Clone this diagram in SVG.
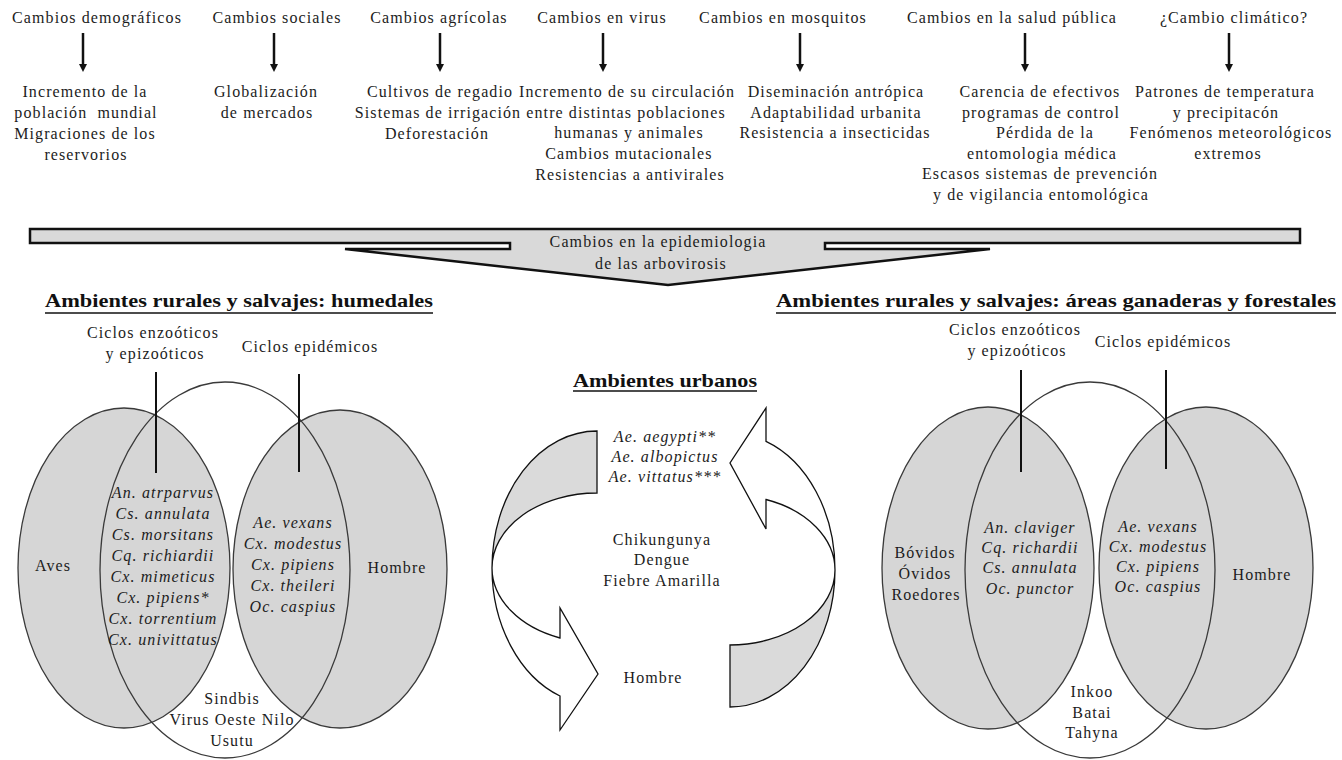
<svg xmlns="http://www.w3.org/2000/svg" width="1342" height="760" viewBox="0 0 1342 760">
<defs>
<style>
.t{font-family:"Liberation Serif","Times New Roman",serif;font-size:16px;letter-spacing:1.1px;fill:#1c1c1c;text-anchor:middle}
.i{font-style:italic}
.h{font-weight:bold;font-size:19px;letter-spacing:0;fill:#111}
.ul{stroke:#111;stroke-width:1.3}
.venn{fill:#d6d6d6;stroke:#3a3a3a;stroke-width:1.3}
.mid{fill:none;stroke:#3a3a3a;stroke-width:1.3}
.ptr{stroke:#111;stroke-width:2}
.arr{stroke:#111;stroke-width:2.5;marker-end:url(#ah)}
.ugray{fill:#dadada;stroke:#111;stroke-width:1.3;stroke-linejoin:miter}
.uwhite{fill:#fff;stroke:#111;stroke-width:1.3;stroke-linejoin:miter}
.banner{fill:#d9d9d9;stroke:#111;stroke-width:2.5;stroke-linejoin:miter}
</style>
<marker id="ah" viewBox="0 0 10 10" refX="0" refY="5" markerWidth="9" markerHeight="8" markerUnits="userSpaceOnUse" orient="auto">
<path d="M0,0 L10,5 L0,10 Z" fill="#111"/>
</marker>
</defs>
<rect width="1342" height="760" fill="#fff"/>

<g id="connectors">
<line class="arr" x1="83" y1="33" x2="83" y2="64"/>
<line class="arr" x1="274" y1="33" x2="274" y2="64"/>
<line class="arr" x1="440" y1="33" x2="440" y2="64"/>
<line class="arr" x1="603" y1="33" x2="603" y2="64"/>
<line class="arr" x1="800" y1="33" x2="800" y2="64"/>
<line class="arr" x1="1025" y1="33" x2="1025" y2="64"/>
<line class="arr" x1="1229" y1="33" x2="1229" y2="64"/>
</g>

<g id="headers">
<text class="t" x="97" y="23">Cambios demográficos</text>
<text class="t" x="277" y="23">Cambios sociales</text>
<text class="t" x="439" y="23">Cambios agrícolas</text>
<text class="t" x="602" y="23">Cambios en virus</text>
<text class="t" x="783" y="23">Cambios en mosquitos</text>
<text class="t" x="1012" y="23">Cambios en la salud pública</text>
<text class="t" x="1234" y="23">¿Cambio climático?</text>
</g>

<g id="col-demograficos">
<text class="t" x="85" y="97">Incremento de la</text>
<text class="t" x="86" y="118" xml:space="preserve">población  mundial</text>
<text class="t" x="85" y="139">Migraciones de los</text>
<text class="t" x="86" y="160">reservorios</text>
</g>
<g id="col-sociales">
<text class="t" x="266" y="97">Globalización</text>
<text class="t" x="267" y="118">de mercados</text>
</g>
<g id="col-agricolas">
<text class="t" x="440" y="97">Cultivos de regadio</text>
<text class="t" x="438" y="118">Sistemas de irrigación</text>
<text class="t" x="437" y="139">Deforestación</text>
</g>
<g id="col-virus">
<text class="t" x="627" y="97">Incremento de su circulación</text>
<text class="t" x="626" y="118">entre distintas poblaciones</text>
<text class="t" x="629" y="138">humanas y animales</text>
<text class="t" x="629" y="159">Cambios mutacionales</text>
<text class="t" x="630" y="180">Resistencias a antivirales</text>
</g>
<g id="col-mosquitos">
<text class="t" x="836" y="97">Diseminación antrópica</text>
<text class="t" x="836" y="118">Adaptabilidad urbanita</text>
<text class="t" x="835" y="138">Resistencia a insecticidas</text>
</g>
<g id="col-salud">
<text class="t" x="1040" y="97">Carencia de efectivos</text>
<text class="t" x="1041" y="118">programas de control</text>
<text class="t" x="1045" y="138">Pérdida de la</text>
<text class="t" x="1042" y="159">entomologia médica</text>
<text class="t" x="1040" y="179">Escasos sistemas de prevención</text>
<text class="t" x="1041" y="200">y de vigilancia entomológica</text>
</g>
<g id="col-clima">
<text class="t" x="1225" y="97">Patrones de temperatura</text>
<text class="t" x="1226" y="118">y precipitacón</text>
<text class="t" x="1231" y="138">Fenómenos meteorológicos</text>
<text class="t" x="1228" y="159">extremos</text>
</g>

<g id="banner">
<path class="banner" d="M30,229 H1300 V243 H825 V249 H990 L668,285 L345,249 H510 V243 H30 Z"/>
<text class="t" x="658" y="247">Cambios en la epidemiologia</text>
<text class="t" x="661" y="269">de las arbovirosis</text>
</g>

<g id="titles">
<text class="t h" x="239" y="307" textLength="388" lengthAdjust="spacingAndGlyphs">Ambientes rurales y salvajes: humedales</text>
<line class="ul" x1="45" y1="313" x2="433" y2="313"/>
<text class="t h" x="1056" y="307" textLength="560" lengthAdjust="spacingAndGlyphs">Ambientes rurales y salvajes: áreas ganaderas y forestales</text>
<line class="ul" x1="776" y1="313" x2="1336" y2="313"/>
<text class="t h" x="665" y="387" textLength="184" lengthAdjust="spacingAndGlyphs">Ambientes urbanos</text>
<line class="ul" x1="573" y1="391" x2="757" y2="391"/>
</g>

<g id="venn-humedales">
<ellipse class="venn" cx="124" cy="568" rx="106" ry="160"/>
<ellipse class="venn" cx="340" cy="569" rx="107" ry="159"/>
<ellipse class="mid" cx="225" cy="570" rx="125" ry="188"/>
<line class="ptr" x1="156" y1="372" x2="156" y2="473"/>
<line class="ptr" x1="299" y1="374" x2="299" y2="472"/>
<text class="t" x="153" y="338">Ciclos enzoóticos</text>
<text class="t" x="155" y="359">y epizoóticos</text>
<text class="t" x="310" y="352">Ciclos epidémicos</text>
<text class="t" x="53" y="571">Aves</text>
<text class="t" x="397" y="573">Hombre</text>
<g class="t i">
<text x="163" y="498">An. atrparvus</text>
<text x="163" y="519">Cs. annulata</text>
<text x="163" y="540">Cs. morsitans</text>
<text x="163" y="561">Cq. richiardii</text>
<text x="163" y="582">Cx. mimeticus</text>
<text x="163" y="603">Cx. pipiens*</text>
<text x="163" y="624">Cx. torrentium</text>
<text x="163" y="645">Cx. univittatus</text>
<text x="293" y="528">Ae. vexans</text>
<text x="293" y="549">Cx. modestus</text>
<text x="293" y="570">Cx. pipiens</text>
<text x="293" y="591">Cx. theileri</text>
<text x="293" y="612">Oc. caspius</text>
</g>
<text class="t" x="232" y="704">Sindbis</text>
<text class="t" x="232" y="725">Virus Oeste Nilo</text>
<text class="t" x="232" y="746">Usutu</text>
</g>

<g id="urbano">
<path class="uwhite" d="M492,568 A105,137 0 0,0 560,696 L560,730 L598,674 L560,608 L560,638 A105,75 0 0,1 492,568 Z"/>
<path class="ugray" d="M597,431 A105,137 0 0,0 492,568 A105,75 0 0,1 597,493 Z"/>
<path class="uwhite" d="M835,570 A105,137 0 0,0 766,441.3 L766,408 L730,463 L766,529 L766,499.5 A105,75 0 0,1 835,570 Z"/>
<path class="ugray" d="M730,707 A105,137 0 0,0 835,570 A105,75 0 0,1 730,645 Z"/>
<g class="t i">
<text x="665" y="442">Ae. aegypti**</text>
<text x="665" y="462">Ae. albopictus</text>
<text x="665" y="482">Ae. vittatus***</text>
</g>
<text class="t" x="662" y="545">Chikungunya</text>
<text class="t" x="662" y="565">Dengue</text>
<text class="t" x="662" y="586">Fiebre Amarilla</text>
<text class="t" x="653" y="683">Hombre</text>
</g>

<g id="venn-ganaderas">
<ellipse class="venn" cx="988" cy="568" rx="106" ry="161"/>
<ellipse class="venn" cx="1206" cy="568" rx="107" ry="161"/>
<ellipse class="mid" cx="1090" cy="570" rx="125" ry="188"/>
<line class="ptr" x1="1021" y1="370" x2="1021" y2="472"/>
<line class="ptr" x1="1166" y1="370" x2="1166" y2="469"/>
<text class="t" x="1015" y="335">Ciclos enzoóticos</text>
<text class="t" x="1017" y="356">y epizoóticos</text>
<text class="t" x="1163" y="347">Ciclos epidémicos</text>
<text class="t" x="925" y="558">Bóvidos</text>
<text class="t" x="925" y="579">Óvidos</text>
<text class="t" x="926" y="600">Roedores</text>
<text class="t" x="1262" y="580">Hombre</text>
<g class="t i">
<text x="1030" y="533">An. claviger</text>
<text x="1030" y="553">Cq. richardii</text>
<text x="1030" y="573">Cs. annulata</text>
<text x="1030" y="594">Oc. punctor</text>
<text x="1158" y="532">Ae. vexans</text>
<text x="1158" y="552">Cx. modestus</text>
<text x="1158" y="572">Cx. pipiens</text>
<text x="1158" y="592">Oc. caspius</text>
</g>
<text class="t" x="1092" y="697">Inkoo</text>
<text class="t" x="1092" y="718">Batai</text>
<text class="t" x="1092" y="738">Tahyna</text>
</g>
</svg>
